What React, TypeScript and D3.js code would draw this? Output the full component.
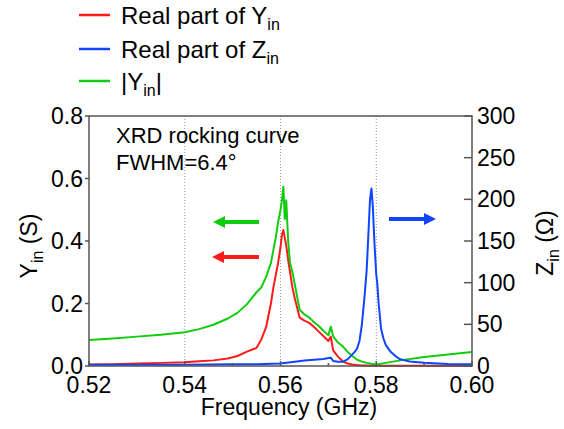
import React from 'react';
import * as d3 from 'd3';

// Frequency grid (GHz) for the admittance series
const yFreq = [
  0.520, 0.525, 0.530, 0.535, 0.540, 0.543, 0.546, 0.549, 0.551, 0.553,
  0.555, 0.556, 0.557, 0.558, 0.5585, 0.559, 0.5595, 0.560, 0.5603, 0.5606,
  0.5609, 0.5612, 0.5616, 0.562, 0.5625, 0.563, 0.564, 0.565, 0.566, 0.567,
  0.568, 0.569, 0.570, 0.5705, 0.571, 0.572, 0.573, 0.574, 0.575, 0.576,
  0.577, 0.578, 0.579, 0.580, 0.582, 0.585, 0.590, 0.595, 0.600,
];
// Real part of Yin (S)
const reY = [
  0.005, 0.006, 0.008, 0.010, 0.012, 0.015, 0.018, 0.024, 0.032, 0.046,
  0.058, 0.085, 0.125, 0.200, 0.250, 0.290, 0.330, 0.380, 0.420, 0.435,
  0.410, 0.385, 0.340, 0.300, 0.250, 0.215, 0.155, 0.145, 0.138, 0.125,
  0.110, 0.095, 0.080, 0.094, 0.050, 0.030, 0.015, 0.008, 0.005, 0.003,
  0.002, 0.002, 0.001, 0.001, 0.001, 0.001, 0.001, 0.001, 0.001,
];
// |Yin| (S)
const absY = [
  0.083, 0.088, 0.094, 0.100, 0.108, 0.118, 0.132, 0.152, 0.170, 0.198,
  0.236, 0.252, 0.285, 0.330, 0.370, 0.410, 0.460, 0.500, 0.530, 0.574,
  0.470, 0.530, 0.400, 0.330, 0.300, 0.260, 0.180, 0.165, 0.155, 0.140,
  0.128, 0.112, 0.098, 0.126, 0.095, 0.075, 0.063, 0.045, 0.032, 0.020,
  0.014, 0.010, 0.007, 0.005, 0.010, 0.018, 0.029, 0.037, 0.045,
];
// Frequency grid (GHz) for the impedance series
const zFreq = [
  0.520, 0.530, 0.540, 0.550, 0.555, 0.560, 0.563, 0.565, 0.567, 0.569,
  0.570, 0.5705, 0.571, 0.572, 0.573, 0.574, 0.5745, 0.575, 0.5755, 0.576,
  0.5765, 0.577, 0.5775, 0.578, 0.5784, 0.5787, 0.579, 0.5793, 0.5796, 0.580,
  0.5802, 0.5805, 0.581, 0.5815, 0.582, 0.583, 0.584, 0.585, 0.587, 0.590,
  0.595, 0.600,
];
// Real part of Zin (Ohm)
const reZ = [
  1.5, 1.5, 1.5, 2, 2, 3, 5, 6.5, 7.5, 8.5,
  9.5, 10, 6, 5, 5, 8, 11, 14, 17, 21,
  30, 50, 80, 115, 163, 200, 213, 190, 150, 110,
  100, 75, 45, 33, 25, 17, 12, 8, 5.5, 4,
  2.5, 2,
];

const xTicks = [0.52, 0.54, 0.56, 0.58, 0.60];
const xMinorTicks = [0.53, 0.55, 0.57, 0.59];
const gridTicks = [0.54, 0.56, 0.58];
const yLeftTicks = [0, 0.2, 0.4, 0.6, 0.8];
const yRightTicks = [0, 50, 100, 150, 200, 250, 300];

const FONT = '"Liberation Sans", Arial, Helvetica, sans-serif';
const RED = '#ff1a1a';
const BLUE = '#1144ff';
const GREEN = '#11cc11';
const AXIS = '#555';

export default function App() {
  const W = 564, H = 429;
  const L = 89, R = 472, T = 116, B = 366;
  const x = d3.scaleLinear().domain([0.52, 0.60]).range([L, R]);
  const yL = d3.scaleLinear().domain([0, 0.8]).range([B, T]);
  const yR = d3.scaleLinear().domain([0, 300]).range([B, T]);

  const lineL = d3.line<number>().x((_, i) => x(yFreq[i])).y((d) => yL(d));
  const lineZ = d3.line<number>().x((_, i) => x(zFreq[i])).y((d) => yR(d));

  const legend = [
    { color: RED, y: 15, label: 'Real part of ', sym: 'Y', abs: false },
    { color: BLUE, y: 49, label: 'Real part of ', sym: 'Z', abs: false },
    { color: GREEN, y: 81, label: '', sym: 'Y', abs: true },
  ];

  const arrow = (x1: number, x2: number, y: number, color: string) => {
    // x1 tail, x2 tip
    const dir = Math.sign(x2 - x1);
    const headLen = 12;
    const headHalf = 6;
    const base = x2 - dir * headLen;
    return (
      <g>
        <line x1={x1} x2={base} y1={y} y2={y} stroke={color} strokeWidth={4} />
        <path d={`M${x2},${y} L${base},${y - headHalf} L${base},${y + headHalf} Z`} fill={color} />
      </g>
    );
  };

  return (
    <svg width={W} height={H} style={{ position: 'absolute', left: 0, top: 0, background: '#fff' }} fontFamily={FONT}>
      <rect x={0} y={0} width={W} height={H} fill="#fff" />
      {/* legend */}
      {legend.map((d) => (
        <g key={d.sym + d.y}>
          <line x1={79} x2={110} y1={d.y} y2={d.y} stroke={d.color} strokeWidth={2.5} />
          <text x={121} y={d.y + 9} fontSize={24} fill="#000">
            {d.abs ? '|' : ''}{d.label}{d.sym}
            <tspan dy={6} fontSize={16}>in</tspan>
            {d.abs ? <tspan dy={-6}>|</tspan> : null}
          </text>
        </g>
      ))}

      {/* grid */}
      {gridTicks.map((t) => (
        <line key={t} x1={x(t)} x2={x(t)} y1={T} y2={B} stroke="#999" strokeWidth={1} strokeDasharray="1,2" />
      ))}

      {/* series */}
      <path d={lineL(reY) || ''} fill="none" stroke={RED} strokeWidth={2} strokeLinejoin="round" />
      <path d={lineL(absY) || ''} fill="none" stroke={GREEN} strokeWidth={2} strokeLinejoin="round" />
      <path d={lineZ(reZ) || ''} fill="none" stroke={BLUE} strokeWidth={2} strokeLinejoin="round" />

      {/* frame */}
      <rect x={L} y={T} width={R - L} height={B - T} fill="none" stroke={AXIS} strokeWidth={1.5} />

      {/* bottom ticks */}
      {xTicks.map((t) => (
        <g key={t}>
          <line x1={x(t)} x2={x(t)} y1={B} y2={B - 5} stroke={AXIS} strokeWidth={1.5} />
          <text x={x(t)} y={393} fontSize={23} textAnchor="middle">{d3.format('.2f')(t)}</text>
        </g>
      ))}
      {xMinorTicks.map((t) => (
        <line key={t} x1={x(t)} x2={x(t)} y1={B} y2={B - 3} stroke={AXIS} strokeWidth={1.5} />
      ))}
      <text x={289} y={415} fontSize={23} textAnchor="middle">Frequency (GHz)</text>

      {/* left axis */}
      {yLeftTicks.map((t) => (
        <g key={t}>
          <line x1={L - 4} x2={L} y1={yL(t)} y2={yL(t)} stroke={AXIS} strokeWidth={1.5} />
          <text x={83} y={yL(t) + 8} fontSize={23} textAnchor="end">{d3.format('.1f')(t)}</text>
        </g>
      ))}
      <text transform={`translate(37,246) rotate(-90)`} fontSize={23} textAnchor="middle">
        Y<tspan dy={6} fontSize={16}>in</tspan><tspan dy={-6}> (S)</tspan>
      </text>

      {/* right axis */}
      {yRightTicks.map((t) => (
        <g key={t}>
          <line x1={R - 8} x2={R} y1={yR(t)} y2={yR(t)} stroke={AXIS} strokeWidth={1.5} />
          <text x={477} y={yR(t) + 8} fontSize={23} textAnchor="start">{t}</text>
        </g>
      ))}
      <text transform={`translate(553,243) rotate(-90)`} fontSize={23} textAnchor="middle">
        Z<tspan dy={6} fontSize={16}>in</tspan><tspan dy={-6}> (Ω)</tspan>
      </text>

      {/* annotations */}
      <text x={116} y={143} fontSize={22}>XRD rocking curve</text>
      <text x={116} y={170} fontSize={22}>FWHM=6.4°</text>

      {arrow(259, 213, 222, GREEN)}
      {arrow(259, 212, 257, RED)}
      {arrow(389, 436, 219, BLUE)}
    </svg>
  );
}
